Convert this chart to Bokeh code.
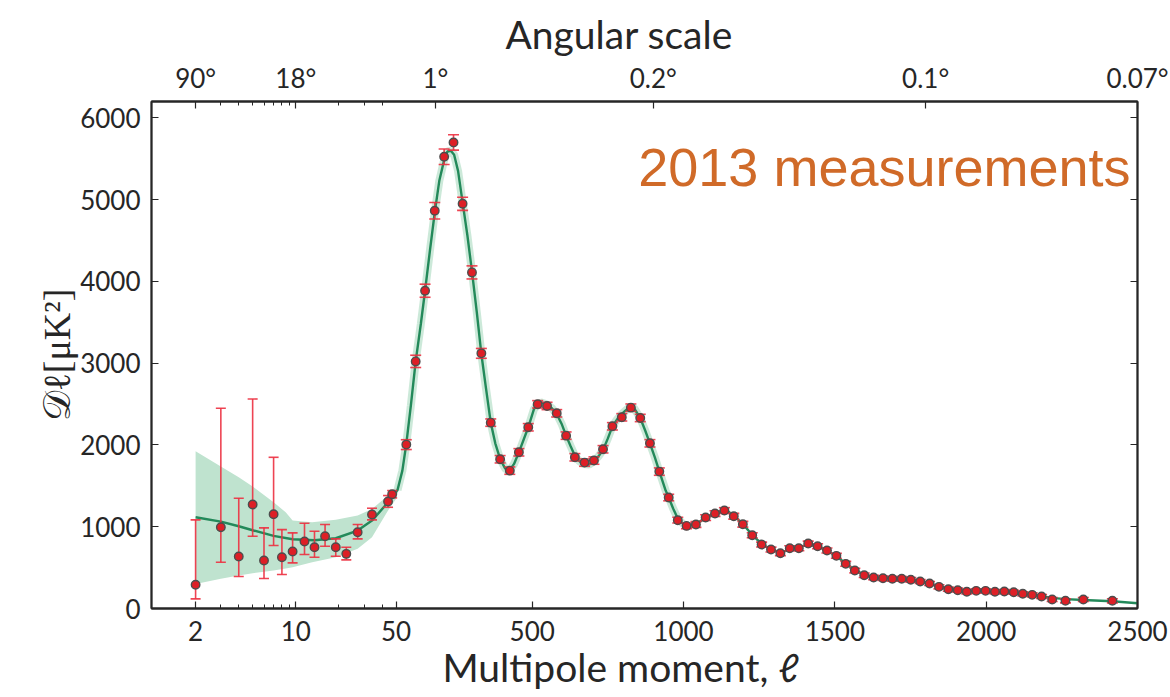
import math
from bokeh.plotting import figure
from bokeh.models import (ColumnDataSource, CustomJSTransform, FixedTicker,
                          LinearAxis, Label, Range1d, Title)
from bokeh.transform import transform
from bokeh.embed import file_html
from bokeh.resources import INLINE

# ---------------- data ----------------
# low-l points (asymmetric error bars)
low_l = [2, 3, 4, 5, 6, 7, 8, 9.5, 11.5, 13.5, 16, 19, 22.5, 27, 34, 44, 47]
low_D = [290, 994, 635, 1271, 587, 1153, 627, 697, 819, 749, 884, 749, 668, 932, 1149, 1308, 1397]
low_lo = [118, 566, 391, 884, 367, 770, 415, 558, 660, 627, 761, 639, 595, 852, 1084, 1238, 1353]
low_hi = [1084, 2448, 1348, 2562, 986, 1849, 965, 925, 1043, 945, 1027, 852, 749, 1027, 1226, 1381, 1442]

# high-l binned points
high_l = [84, 115, 146, 178, 209, 240, 270, 301, 332, 363, 394, 426, 456, 487, 518, 549, 581,
          612, 641, 673, 704, 734, 765, 796, 826, 857, 889, 920, 951, 981, 1010, 1041, 1073,
          1104, 1135, 1166, 1196, 1227, 1258, 1289, 1320, 1351, 1381, 1412, 1443, 1474, 1505,
          1536, 1566, 1597, 1628, 1659, 1690, 1721, 1751, 1782, 1813, 1844, 1875, 1906, 1936,
          1967, 1998, 2029, 2060, 2091, 2121, 2152, 2183, 2218, 2262, 2321, 2417]
high_D = [2004, 3022, 3886, 4864, 5524, 5699, 4949, 4110, 3120, 2273, 1825, 1686, 1910, 2216,
          2497, 2477, 2387, 2114, 1849, 1784, 1809, 1947, 2228, 2338, 2456, 2330, 2020, 1674,
          1357, 1080, 1010, 1027, 1112, 1161, 1198, 1128, 1030, 896, 782, 721, 676, 737, 737,
          794, 761, 709, 644, 546, 464, 407, 379, 370, 363, 363, 351, 330, 306, 265, 236, 224,
          204, 216, 216, 204, 208, 199, 180, 167, 147, 110, 94, 110, 94]
high_err = [60, 75, 80, 100, 95, 94, 80, 80, 60,
            45, 45, 45, 45, 45, 45, 45, 45, 45, 45,
            45, 45, 45, 45, 45, 45, 45, 45, 45, 40,
            35, 35, 35, 35, 35, 35, 35, 35, 30, 30,
            30, 30, 30, 30, 30, 30, 30, 30, 30, 28,
            28, 28, 28, 28, 28, 28, 25, 25, 25, 25,
            25, 25, 25, 25, 25, 25, 25, 25, 25, 25,
            25, 25, 25, 25]

# best-fit model curve
th_l = [2, 3, 4, 5, 7, 9.5, 13.5, 19, 27, 34, 44, 47, 55, 71, 84, 99, 115, 132, 146, 162, 178,
        193, 209, 220, 231, 242, 255, 270, 286, 301, 317, 332, 347, 363, 378, 394, 410, 423,
        440, 456, 487, 506, 528, 545, 565, 581, 597, 612, 627, 641, 656, 671, 688, 704, 719,
        734, 750, 765, 780, 796, 820, 836, 857, 873, 889, 905, 920, 941, 951, 966, 981, 1000,
        1020, 1041, 1073, 1104, 1130, 1150, 1166, 1196, 1227, 1258, 1289, 1320, 1340, 1360,
        1390, 1412, 1443, 1474, 1505, 1536, 1566, 1597, 1628, 1659, 1690, 1721, 1751, 1782,
        1813, 1844, 1875, 1906, 1936, 1967, 1998, 2029, 2060, 2091, 2121, 2152, 2183, 2218,
        2262, 2321, 2417, 2500]
th_D = [1116, 1063, 1006, 957, 888, 847, 835, 859, 953, 1075, 1299, 1370, 1450, 1686, 2013,
        2481, 3022, 3479, 3886, 4375, 4844, 5230, 5483, 5589, 5597, 5548, 5352, 4966, 4558,
        4122, 3621, 3112, 2700, 2273, 2020, 1830, 1715, 1678, 1768, 1910, 2216, 2440, 2521,
        2501, 2450, 2379, 2260, 2114, 1985, 1869, 1800, 1768, 1760, 1800, 1860, 1939, 2080,
        2228, 2310, 2379, 2460, 2452, 2330, 2180, 2020, 1850, 1678, 1442, 1357, 1220, 1100,
        1030, 1015, 1035, 1105, 1165, 1195, 1180, 1135, 1035, 900, 790, 720, 690, 705, 735,
        760, 780, 760, 710, 640, 550, 470, 415, 385, 370, 365, 360, 350, 330, 305, 270, 242,
        225, 215, 212, 210, 205, 200, 192, 180, 165, 150, 130, 115, 104, 88, 65]

# cosmic-variance band at low l
band_l = [2, 3, 4, 5, 7, 8.5, 9.5, 13, 19, 27, 34, 44, 50, 60, 75]
band_hi = [1922, 1735, 1605, 1491, 1299, 1177, 1075, 1055, 1084, 1137, 1218, 1381, 1482, 1580, 1830]
band_lo = [301, 363, 403, 432, 464, 490, 505, 566, 627, 730, 871, 1198, 1340, 1460, 1730]

# axis ticks
bottom_ticks = [2, 10, 50, 500, 1000, 1500, 2000, 2500]
bottom_labels = ["2", "10", "50", "500", "1000", "1500", "2000", "2500"]
log_minor = [3, 4, 5, 6, 7, 8, 9, 20, 30, 40]
top_ticks = [2, 10, 180, 900, 1800, 2500]
top_labels = ["90°", "18°", "1°", "0.2°", "0.1°", "0.07°"]
y_ticks = [0, 1000, 2000, 3000, 4000, 5000, 6000]

# ---------------- hybrid log/linear x scale ----------------
L0 = 50.0      # switch point
K = 473.7      # axis units per decade in the log part

def hyb(l):
    return l if l >= L0 else L0 - K * math.log10(L0 / l)

hyb_js = CustomJSTransform(args=dict(L0=L0, K=K), v_func="""
const out = new Array(xs.length);
for (let i = 0; i < xs.length; i++) {
  const l = xs[i];
  out[i] = l >= L0 ? l : L0 - K * Math.log10(L0 / l);
}
return out;
""")
X = lambda f: transform(f, hyb_js)

X_LO = hyb(0.985)

FONT = "Lato"
INK = "#262626"

p = figure(frame_width=986, frame_height=507, title=None,
           x_range=Range1d(X_LO, 2500), y_range=Range1d(0, 6200),
           min_border_left=151, min_border_right=33, min_border_top=101, min_border_bottom=88,
           output_backend="svg", toolbar_location=None)
p.xgrid.visible = False
p.ygrid.visible = False
p.outline_line_color = INK
p.outline_line_width = 1.8
p.background_fill_color = "white"
p.border_fill_color = "white"

band_src = ColumnDataSource(dict(l=band_l, lo=band_lo, hi=band_hi))
th_src = ColumnDataSource(dict(l=th_l, D=th_D))
halo_src = ColumnDataSource(dict(l=[a for a in th_l if 50 <= a <= 1000],
                                 D=[d for a, d in zip(th_l, th_D) if 50 <= a <= 1000]))
low_src = ColumnDataSource(dict(l=low_l, D=low_D, lo=low_lo, hi=low_hi))
high_src = ColumnDataSource(dict(l=high_l, D=high_D,
                                 lo=[d - e for d, e in zip(high_D, high_err)],
                                 hi=[d + e for d, e in zip(high_D, high_err)]))

BAND = "#bfe3cf"
GREEN = "#23895a"
ERR = "#ec3040"

p.varea(x=X("l"), y1="lo", y2="hi", source=band_src, fill_color=BAND, fill_alpha=1.0)
p.line(x=X("l"), y="D", source=halo_src, line_color=BAND, line_width=8, line_alpha=0.8)
p.line(x=X("l"), y="D", source=th_src, line_color=GREEN, line_width=2.4)

for src, cap in ((low_src, 10), (high_src, 11)):
    p.segment(x0=X("l"), y0="lo", x1=X("l"), y1="hi", source=src,
              line_color=ERR, line_width=1.6, line_alpha=0.9)
    p.scatter(x=X("l"), y="lo", source=src, marker="dash", size=cap,
              line_color=ERR, line_width=1.6, line_alpha=0.9)
    p.scatter(x=X("l"), y="hi", source=src, marker="dash", size=cap,
              line_color=ERR, line_width=1.6, line_alpha=0.9)
    p.scatter(x=X("l"), y="D", source=src, marker="circle", size=8.5,
              fill_color="#dd1f26", line_color="#4d4d4d", line_width=1.4)

# ---------------- axes ----------------
def style_axis(ax, labels=True):
    ax.axis_line_color = INK
    ax.axis_line_width = 1.8
    ax.major_tick_line_color = INK
    ax.major_tick_line_width = 1.2
    ax.minor_tick_line_color = INK
    ax.minor_tick_line_width = 1.0
    ax.major_tick_in = 7
    ax.major_tick_out = 0
    ax.minor_tick_in = 4
    ax.minor_tick_out = 0
    ax.major_label_text_font = FONT
    ax.major_label_text_font_size = "26px"
    ax.major_label_text_color = INK
    if not labels:
        ax.major_label_text_font_size = "0px"
        ax.major_label_text_color = None
        ax.major_label_text_alpha = 0

xb = p.xaxis[0]
bt = [round(hyb(t)) for t in bottom_ticks]
xb.ticker = FixedTicker(ticks=bt, minor_ticks=[hyb(t) for t in log_minor])
xb.major_label_overrides = {t: s for t, s in zip(bt, bottom_labels)}
style_axis(xb)
xb.major_label_standoff = 12

tt = [round(hyb(t)) for t in top_ticks]
xt = LinearAxis(ticker=FixedTicker(ticks=tt, minor_ticks=[hyb(t) for t in log_minor]),
                major_label_overrides={t: s for t, s in zip(tt, top_labels)})
style_axis(xt)
xt.major_label_standoff = 8
p.add_layout(xt, "above")

yl = p.yaxis[0]
yl.ticker = FixedTicker(ticks=y_ticks, minor_ticks=[])
style_axis(yl)
yl.major_label_standoff = 11

yr = LinearAxis(ticker=FixedTicker(ticks=y_ticks, minor_ticks=[]))
style_axis(yr, labels=False)
p.add_layout(yr, "right")

# ---------------- texts ----------------
p.add_layout(Title(text="Multipole moment, ℓ", text_font=FONT, text_font_size="39px",
                   text_font_style="normal", text_color=INK, align="left",
                   offset=291, standoff=-3), "below")
p.add_layout(Title(text="Angular scale", text_font=FONT, text_font_size="39px",
                   text_font_style="normal", text_color=INK, align="left",
                   offset=354, standoff=4), "above")
p.add_layout(Title(text="𝒟ℓ[μK²]", text_font="Liberation Serif", text_font_size="38px",
                   text_font_style="normal", text_color=INK, align="center",
                   offset=4, standoff=0), "left")
p.add_layout(Label(x=2477, y=5400, text="2013 measurements", text_font="Liberation Sans",
                   text_font_size="54px", text_color="#d06a28", text_align="right",
                   text_baseline="middle"))

open("out.html", "w").write(file_html(p, INLINE))
